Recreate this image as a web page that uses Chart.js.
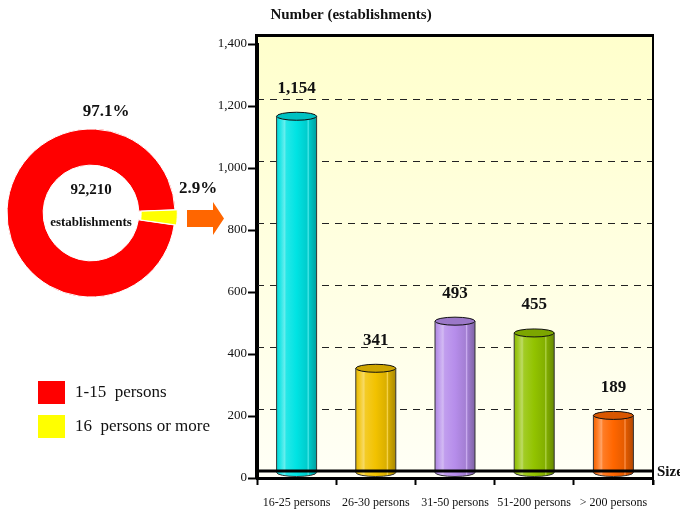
<!DOCTYPE html>
<html><head><meta charset="utf-8">
<script src="https://cdn.jsdelivr.net/npm/chart.js@4/dist/chart.umd.min.js"></script>
<style>
html,body{margin:0;padding:0;background:#fff;}
#wrap{position:relative;width:680px;height:516px;overflow:hidden;}
#donut{position:absolute;left:0;top:122px;}
#bars{position:absolute;left:0;top:0;}
</style></head><body>
<div id="wrap">
<canvas id="donut" width="182" height="182"></canvas>
<canvas id="bars" width="680" height="516"></canvas>
</div>
<script>
// ---- data ----
const sizeCategories = ['16-25 persons', '26-30 persons', '31-50 persons', '51-200 persons', '> 200 persons'];
const establishments = [1154, 341, 493, 455, 189];
const valueLabels = ['1,154', '341', '493', '455', '189'];
const barColors = ['#00E3E3', '#F2C200', '#B68DEB', '#92C300', '#FF6600'];
const yTicks = [0, 200, 400, 600, 800, 1000, 1200, 1400];
const shareLabels = ['1-15  persons', '16  persons or more'];
const shareValues = [97.1, 2.9];
const sharePctLabels = ['97.1%', '2.9%'];
const shareColors = ['#FF0000', '#FFFF00'];
const totalLabel = '92,210';
const totalUnit = 'establishments';
const yTitle = 'Number (establishments)';
const xTitle = 'Size';

const SERIF = '"Liberation Serif", "Times New Roman", serif';
const DEPTH = 7;

function mix(hex, amt) {
  const n = parseInt(hex.slice(1), 16);
  let r = (n >> 16) & 255, g = (n >> 8) & 255, b = n & 255;
  const t = amt > 0 ? 255 : 0, a = Math.abs(amt);
  r = Math.round(r + (t - r) * a); g = Math.round(g + (t - g) * a); b = Math.round(b + (t - b) * a);
  return 'rgb(' + r + ',' + g + ',' + b + ')';
}

function drawCylinder(ctx, cx, w, topY, botY, base) {
  const rx = w / 2, ry = 4, l = cx - rx, r = cx + rx;
  const g = ctx.createLinearGradient(l, 0, r, 0);
  g.addColorStop(0, mix(base, -0.05));
  g.addColorStop(0.1, mix(base, 0.15));
  g.addColorStop(0.2, mix(base, 0.4));
  g.addColorStop(0.24, mix(base, 0.15));
  g.addColorStop(0.5, base);
  g.addColorStop(0.76, mix(base, -0.1));
  g.addColorStop(0.79, mix(base, 0.3));
  g.addColorStop(0.82, mix(base, -0.12));
  g.addColorStop(1, mix(base, -0.3));
  ctx.save();
  ctx.beginPath();
  ctx.moveTo(l, topY);
  ctx.lineTo(l, botY);
  ctx.ellipse(cx, botY, rx, ry, 0, Math.PI, 0, true);
  ctx.lineTo(r, topY);
  ctx.closePath();
  ctx.fillStyle = g;
  ctx.fill();
  ctx.lineWidth = 1;
  ctx.strokeStyle = '#333';
  ctx.stroke();
  ctx.beginPath();
  ctx.ellipse(cx, topY, rx, ry, 0, 0, Math.PI * 2);
  ctx.fillStyle = mix(base, -0.15);
  ctx.fill();
  ctx.strokeStyle = '#111';
  ctx.stroke();
  ctx.restore();
}

// ---- doughnut ----
new Chart(document.getElementById('donut'), {
  type: 'doughnut',
  data: {
    labels: shareLabels,
    datasets: [{ data: shareValues, backgroundColor: shareColors, borderColor: '#fff', borderWidth: 1, offset: [0, 5] }]
  },
  options: {
    responsive: false, animation: false,
    radius: 84, cutout: '57%', rotation: 98.2,
    layout: { padding: 0 },
    plugins: { legend: { display: false }, tooltip: { enabled: false } }
  }
});

// ---- bar chart decorations ----
const decor = {
  id: 'decor',
  beforeDraw(chart) {
    const { ctx, chartArea: a, scales: { y } } = chart;
    const top = y.getPixelForValue(yTicks[yTicks.length - 1]) - DEPTH - 1;
    const g = ctx.createLinearGradient(0, top, 0, a.bottom);
    g.addColorStop(0, '#FFFFCC');
    g.addColorStop(1, '#FFFFF6');
    ctx.save();
    ctx.fillStyle = g;
    ctx.fillRect(a.left, top, a.right - a.left, a.bottom - top);
    ctx.restore();
  },
  beforeDatasetsDraw(chart) {
    const { ctx, chartArea: a, scales: { y } } = chart;
    ctx.save();
    ctx.strokeStyle = '#222';
    ctx.lineWidth = 1.2;
    ctx.setLineDash([7, 6]);
    yTicks.forEach(v => {
      if (v === 0 || v === yTicks[yTicks.length - 1]) return;
      const py = Math.round(y.getPixelForValue(v) - DEPTH) + 0.5;
      ctx.beginPath(); ctx.moveTo(a.left, py); ctx.lineTo(a.right, py); ctx.stroke();
    });
    ctx.restore();
  },
  afterDatasetsDraw(chart) {
    const { ctx, chartArea: a, scales: { y } } = chart;
    const meta = chart.getDatasetMeta(0);
    meta.data.forEach((el, i) => {
      const p = el.getProps(['x', 'y', 'base', 'width'], true);
      const topY = p.y - 4;
      drawCylinder(ctx, p.x, p.width, topY, p.base - 5, barColors[i]);
      ctx.save();
      ctx.fillStyle = '#111';
      ctx.font = 'bold 17px ' + SERIF;
      ctx.textAlign = 'center';
      ctx.textBaseline = 'middle';
      ctx.fillText(valueLabels[i], p.x, topY - 28);
      ctx.restore();
    });
    const top = y.getPixelForValue(yTicks[yTicks.length - 1]) - DEPTH - 1.5;
    const floor = y.getPixelForValue(0) - DEPTH;
    ctx.save();
    ctx.strokeStyle = '#000';
    ctx.lineWidth = 3;
    ctx.beginPath(); ctx.moveTo(a.left, floor); ctx.lineTo(a.right + 1, floor); ctx.stroke();
    ctx.beginPath(); ctx.moveTo(a.left, top); ctx.lineTo(a.right + 1, top); ctx.stroke();
    ctx.beginPath(); ctx.moveTo(a.left - 0.5, top - 1.5); ctx.lineTo(a.left - 0.5, a.bottom + 1); ctx.stroke();
    ctx.lineWidth = 2;
    ctx.beginPath(); ctx.moveTo(a.right, top - 1.5); ctx.lineTo(a.right, a.bottom + 7); ctx.stroke();
    ctx.restore();
  },
  afterDraw(chart) {
    const { ctx, chartArea: a, scales: { y } } = chart;
    ctx.save();
    ctx.fillStyle = '#111';
    ctx.textBaseline = 'middle';
    // axis titles
    ctx.font = 'bold 15px ' + SERIF;
    ctx.textAlign = 'center';
    ctx.fillText(yTitle, 351, 15);
    ctx.textAlign = 'left';
    ctx.fillText(xTitle, a.right + 4, y.getPixelForValue(0) - 6);
    // doughnut labels
    ctx.textAlign = 'center';
    ctx.font = 'bold 17px ' + SERIF;
    ctx.fillText(sharePctLabels[0], 106, 112);
    ctx.fillText(sharePctLabels[1], 198, 189);
    ctx.font = 'bold 15px ' + SERIF;
    ctx.fillText(totalLabel, 91, 190);
    ctx.font = 'bold 13px ' + SERIF;
    ctx.fillText(totalUnit, 91, 223);
    // arrow
    ctx.fillStyle = '#FF6600';
    ctx.beginPath();
    ctx.moveTo(187, 210); ctx.lineTo(213, 210); ctx.lineTo(213, 202);
    ctx.lineTo(224, 218.5); ctx.lineTo(213, 235); ctx.lineTo(213, 227);
    ctx.lineTo(187, 227); ctx.closePath(); ctx.fill();
    // legend
    ctx.font = '17px ' + SERIF;
    ctx.textAlign = 'left';
    shareLabels.forEach((lab, i) => {
      const yy = 381 + i * 34;
      ctx.fillStyle = shareColors[i];
      ctx.fillRect(38, yy, 27, 23);
      ctx.fillStyle = '#111';
      ctx.fillText(lab, 75, yy + 12);
    });
    ctx.restore();
  }
};

new Chart(document.getElementById('bars'), {
  type: 'bar',
  data: {
    labels: sizeCategories,
    datasets: [{ data: establishments, backgroundColor: 'rgba(0,0,0,0)', borderWidth: 0, barPercentage: 0.505, categoryPercentage: 1 }]
  },
  options: {
    responsive: false, animation: false,
    layout: { padding: { top: 44, right: 27, left: 0, bottom: 0 } },
    plugins: { legend: { display: false }, tooltip: { enabled: false } },
    scales: {
      x: {
        afterFit(s) { s.height = 38; },
        grid: { display: true, drawOnChartArea: false, drawTicks: true, tickLength: 7, tickWidth: 2, tickColor: '#000', offset: true },
        border: { display: true, color: '#000', width: 3 },
        ticks: { color: '#111', font: { family: SERIF, size: 12 }, padding: 11, maxRotation: 0, autoSkip: false }
      },
      y: {
        min: 0, max: 1400,
        afterFit(s) { s.width = 257; },
        afterBuildTicks(s) { s.ticks = yTicks.map(v => ({ value: v })); },
        grid: { display: true, drawOnChartArea: false, drawTicks: true, tickLength: 9, tickWidth: 2, tickColor: '#000' },
        border: { display: true, color: '#000', width: 3 },
        ticks: { color: '#111', font: { family: SERIF, size: 13 }, padding: 1,
          callback: v => v.toLocaleString('en-US') }
      }
    }
  },
  plugins: [decor]
});
</script>
</body></html>
